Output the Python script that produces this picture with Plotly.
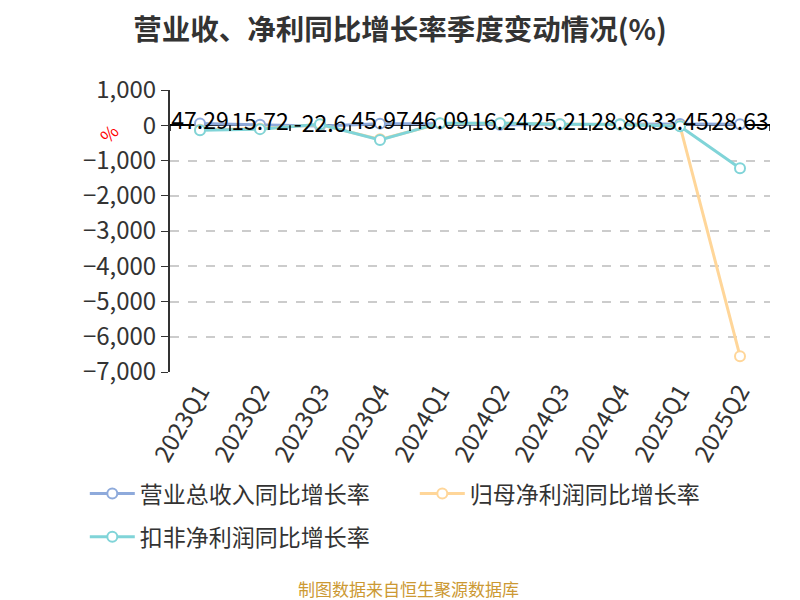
import plotly.graph_objects as go

# quarter categories
quarters = ["2023Q1", "2023Q2", "2023Q3", "2023Q4", "2024Q1",
            "2024Q2", "2024Q3", "2024Q4", "2025Q1", "2025Q2"]

# year-over-year growth (%)
revenue_yoy = [47.29, 15.72, -22.6, 45.97, 46.09, 16.24, 25.21, 28.86, 33.45, 28.63]
net_profit_yoy = [-130, -100, 20, -400, 50, 60, 30, 20, -20, -6550]
deducted_profit_yoy = [-140, -110, 30, -420, 60, 60, 30, 20, -30, -1220]

series_names = ["营业总收入同比增长率", "归母净利润同比增长率", "扣非净利润同比增长率"]
colors = ["#8eaadb", "#ffd699", "#80d4d8"]
legend_ids = ["legend", "legend", "legend2"]

font_family = "Noto Sans CJK SC"

fig = go.Figure()

for name, vals, col, lg in zip(series_names,
                               [revenue_yoy, net_profit_yoy, deducted_profit_yoy],
                               colors, legend_ids):
    fig.add_trace(go.Scatter(
        x=quarters, y=vals, name=name, legend=lg,
        mode="lines+markers",
        line=dict(color=col, width=3),
        marker=dict(symbol="circle", size=10, color="white",
                    line=dict(color=col, width=2)),
    ))

# data labels for the revenue series (drawn on top)
fig.add_trace(go.Scatter(
    x=quarters, y=revenue_yoy,
    mode="text",
    text=[f"{v:g}" for v in revenue_yoy],
    textposition="middle center",
    textfont=dict(size=23, color="#000000", family=font_family),
    showlegend=False, hoverinfo="skip",
))

# small tick marks on the zero axis line between categories
for i in range(-1, 10):
    fig.add_shape(type="line", xref="x", yref="y",
                  x0=i + 0.5, x1=i + 0.5, y0=0, y1=-160,
                  line=dict(color="#000000", width=1.5))

legend_style = dict(orientation="h", xanchor="left", yanchor="top",
                    font=dict(size=23, color="#333333"),
                    itemwidth=45, tracegroupgap=0)

# the page body adds an 8px offset, so margins are trimmed to match
fig.update_layout(
    width=800, height=600,
    paper_bgcolor="white", plot_bgcolor="white",
    margin=dict(l=162, r=38, t=82, b=236, autoexpand=False),
    font=dict(family=font_family, color="#333333"),
    title=dict(text="<b>营业收、净利同比增长率季度变动情况(%)</b>",
               x=0.49, xanchor="center", y=0.963, yanchor="middle",
               font=dict(size=28.5, color="#333333")),
    legend=dict(x=-0.142, y=-0.355, entrywidth=270, **legend_style),
    legend2=dict(x=-0.142, y=-0.508, **legend_style),
    showlegend=True,
    annotations=[
        dict(text="%", xref="paper", yref="paper", x=-0.133, y=0.912,
             showarrow=False, textangle=-45,
             font=dict(size=18, color="#ff0000")),
        dict(text="制图数据来自恒生聚源数据库", xref="paper", yref="paper",
             x=0.397, y=-0.766, xanchor="center", yanchor="middle",
             showarrow=False, font=dict(size=17, color="#cc9933")),
    ],
)

fig.update_xaxes(
    type="category", range=[-0.5, 9.5], automargin=False,
    tickangle=-60, tickfont=dict(size=24, color="#333333"),
    showline=False, showgrid=False, ticks="",
)

fig.update_yaxes(
    range=[-7000, 1000], dtick=1000, tickformat=",", automargin=False,
    tickfont=dict(size=24, color="#333333"),
    showline=True, linecolor="#333333", linewidth=2,
    ticks="outside", ticklen=7, tickcolor="#333333",
    showgrid=True, gridcolor="#cccccc", griddash="dash", gridwidth=1.5,
    zeroline=True, zerolinecolor="#000000", zerolinewidth=1.5,
)

fig.write_html("out.html")
